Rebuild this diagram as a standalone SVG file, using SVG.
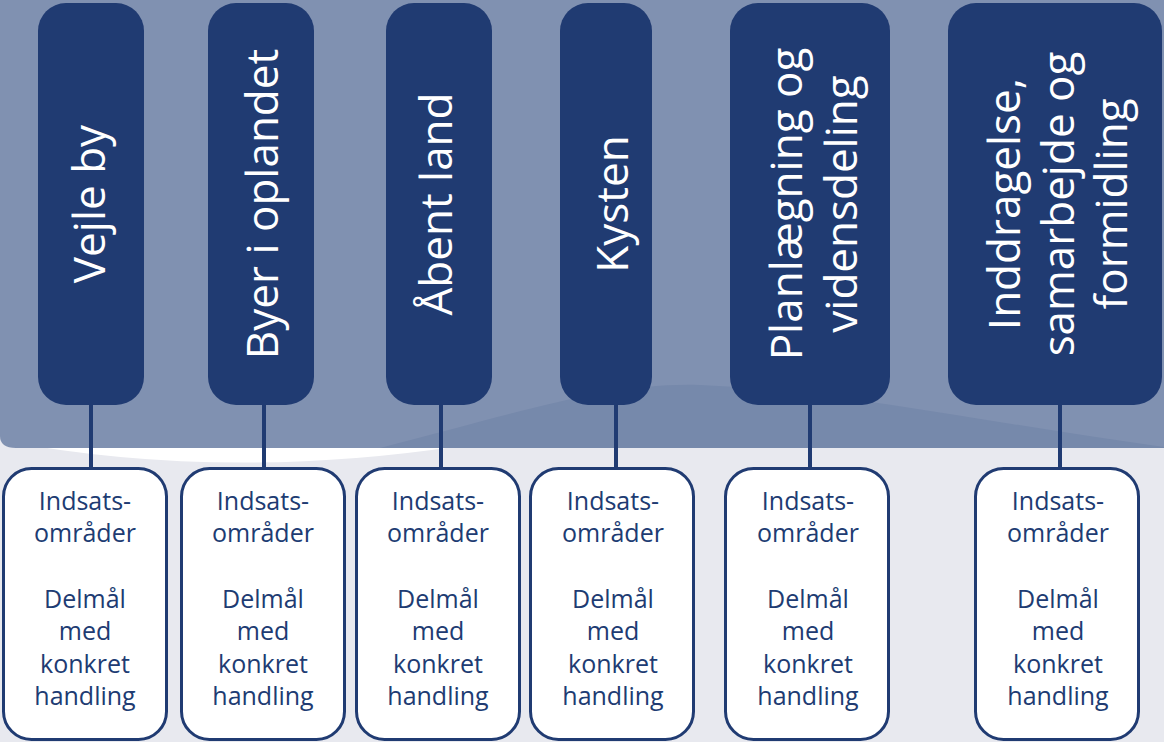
<svg xmlns="http://www.w3.org/2000/svg" width="1164" height="742" viewBox="0 0 1164 742">
<style>
.top{fill:#203b72}
.bot{fill:#ffffff;stroke:#203b72;stroke-width:3}
.tt{font-family:"Open Sans","Liberation Sans",sans-serif;font-size:44px;fill:#ffffff;text-anchor:middle}
.bt{font-family:"Open Sans","Liberation Sans",sans-serif;font-size:25px;fill:#203b72;text-anchor:middle}
.con line{stroke:#203b72;stroke-width:4}
</style>
<rect x="0" y="0" width="1164" height="742" fill="#e8e9ef"/>
<path d="M0,440 Q220,482 460,446 L460,440 Z" fill="#ffffff"/>
<path d="M0,0 H1164 V448 H16 Q0,448 0,436 Z" fill="#8091b1"/>
<path d="M380,448 C520,412 610,382 700,385 C850,392 1000,425 1164,447 V448 Z" fill="#7689ab"/>
<g id="connectors" class="con">
<line x1="91" y1="400" x2="91" y2="470"/>
<line x1="264" y1="400" x2="264" y2="470"/>
<line x1="441" y1="400" x2="441" y2="470"/>
<line x1="616" y1="400" x2="616" y2="470"/>
<line x1="810" y1="400" x2="810" y2="470"/>
<line x1="1060" y1="400" x2="1060" y2="470"/>
</g>
<g id="n1"><rect class="top" x="38" y="3" width="106" height="402" rx="28"/>
<text class="tt" transform="translate(105,204) rotate(-90)">Vejle by</text></g>
<g id="n2"><rect class="top" x="208" y="3" width="106" height="402" rx="28"/>
<text class="tt" transform="translate(278,204) rotate(-90)">Byer i oplandet</text></g>
<g id="n3"><rect class="top" x="386" y="3" width="106" height="402" rx="28"/>
<text class="tt" transform="translate(452,204) rotate(-90)">Åbent land</text></g>
<g id="n4"><rect class="top" x="560" y="3" width="92" height="402" rx="28"/>
<text class="tt" transform="translate(628,204) rotate(-90)">Kysten</text></g>
<g id="n5"><rect class="top" x="730" y="3" width="160" height="402" rx="28"/>
<text class="tt" transform="translate(802,204) rotate(-90)"><tspan x="0" dy="0">Planlægning og</tspan><tspan x="0" dy="55">vidensdeling</tspan></text></g>
<g id="n6"><rect class="top" x="948" y="3" width="214" height="402" rx="28"/>
<text class="tt" transform="translate(1020,204) rotate(-90)"><tspan x="0" dy="0">Inddragelse,</tspan><tspan x="0" dy="53.5">samarbejde og</tspan><tspan x="0" dy="53.5">formidling</tspan></text></g>
<g id="b1"><rect class="bot" x="3.5" y="468.5" width="163" height="271" rx="28"/>
<text class="bt"><tspan x="85" y="510">Indsats-</tspan><tspan x="85" y="542">områder</tspan><tspan x="85" y="608">Delmål</tspan><tspan x="85" y="640">med</tspan><tspan x="85" y="673">konkret</tspan><tspan x="85" y="705">handling</tspan></text></g>
<g id="b2"><rect class="bot" x="181.5" y="468.5" width="163" height="271" rx="28"/>
<text class="bt"><tspan x="263" y="510">Indsats-</tspan><tspan x="263" y="542">områder</tspan><tspan x="263" y="608">Delmål</tspan><tspan x="263" y="640">med</tspan><tspan x="263" y="673">konkret</tspan><tspan x="263" y="705">handling</tspan></text></g>
<g id="b3"><rect class="bot" x="356.5" y="468.5" width="163" height="271" rx="28"/>
<text class="bt"><tspan x="438" y="510">Indsats-</tspan><tspan x="438" y="542">områder</tspan><tspan x="438" y="608">Delmål</tspan><tspan x="438" y="640">med</tspan><tspan x="438" y="673">konkret</tspan><tspan x="438" y="705">handling</tspan></text></g>
<g id="b4"><rect class="bot" x="530.5" y="468.5" width="163" height="271" rx="28"/>
<text class="bt"><tspan x="613" y="510">Indsats-</tspan><tspan x="613" y="542">områder</tspan><tspan x="613" y="608">Delmål</tspan><tspan x="613" y="640">med</tspan><tspan x="613" y="673">konkret</tspan><tspan x="613" y="705">handling</tspan></text></g>
<g id="b5"><rect class="bot" x="725.5" y="468.5" width="163" height="271" rx="28"/>
<text class="bt"><tspan x="808" y="510">Indsats-</tspan><tspan x="808" y="542">områder</tspan><tspan x="808" y="608">Delmål</tspan><tspan x="808" y="640">med</tspan><tspan x="808" y="673">konkret</tspan><tspan x="808" y="705">handling</tspan></text></g>
<g id="b6"><rect class="bot" x="975.5" y="468.5" width="163" height="271" rx="28"/>
<text class="bt"><tspan x="1058" y="510">Indsats-</tspan><tspan x="1058" y="542">områder</tspan><tspan x="1058" y="608">Delmål</tspan><tspan x="1058" y="640">med</tspan><tspan x="1058" y="673">konkret</tspan><tspan x="1058" y="705">handling</tspan></text></g>
</svg>
